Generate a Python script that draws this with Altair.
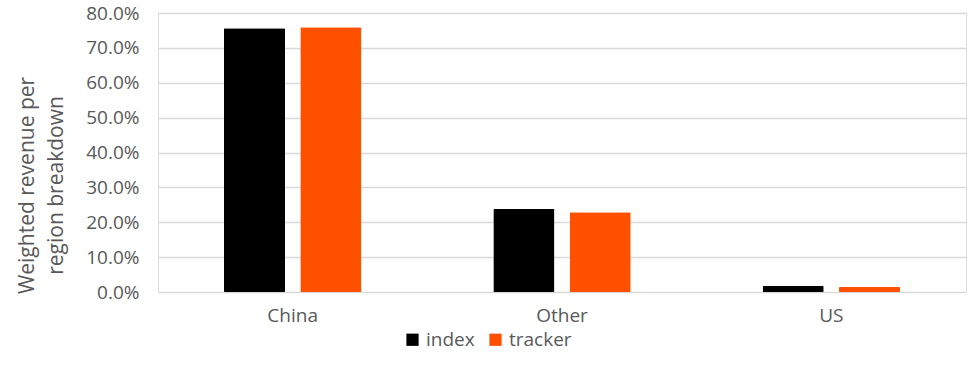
import altair as alt
import pandas as pd

regions = ["China", "Other", "US"]
index_vals = [0.756, 0.238, 0.017]
tracker_vals = [0.759, 0.229, 0.014]
series = ["index", "tracker"]
colors = ["#000000", "#FF5000"]
y_ticks = [0.0, 0.1, 0.2, 0.3, 0.4, 0.5, 0.6, 0.7, 0.8]

rows = []
for r, a, b in zip(regions, index_vals, tracker_vals):
    rows.append({"region": r, "series": "index", "value": a})
    rows.append({"region": r, "series": "tracker", "value": b})
df = pd.DataFrame(rows)

FONT = "Open Sans"
GREY = "#595959"

chart = alt.Chart(df).mark_bar(cornerRadius=1).encode(
    x=alt.X("region:N", sort=regions,
            scale=alt.Scale(paddingInner=0.49, paddingOuter=0.245),
            axis=alt.Axis(title=None, labelAngle=0, ticks=False, domain=False,
                          labelFontSize=19, labelColor=GREY, labelFont=FONT,
                          labelPadding=14, grid=False)),
    xOffset=alt.XOffset("series:N", sort=series,
                        scale=alt.Scale(paddingInner=0.2, paddingOuter=0)),
    y=alt.Y("value:Q",
            scale=alt.Scale(domain=[0, 0.8], nice=False),
            axis=alt.Axis(values=y_ticks, format=".1%", ticks=False, domain=False,
                          labelFontSize=19, labelColor=GREY, labelFont=FONT,
                          labelPadding=19, gridColor="#D9D9D9", gridWidth=1.5,
                          title=["Weighted revenue per", "region breakdown"],
                          titleFontSize=21, titleFontWeight="normal",
                          titleColor=GREY, titleFont=FONT, titlePadding=19,
                          titleLineHeight=29, titleY=172)),
    color=alt.Color("series:N", sort=series,
                    scale=alt.Scale(domain=series, range=colors),
                    legend=alt.Legend(title=None, orient="none", direction="horizontal",
                                      legendX=245, legendY=317,
                                      symbolType="square", symbolSize=150,
                                      symbolStrokeWidth=0,
                                      labelFontSize=19, labelColor=GREY,
                                      labelFont=FONT, columnPadding=11,
                                      labelOffset=4)),
).properties(
    width=808, height=279,
    autosize=alt.AutoSizeParams(type="none"),
    padding={"left": 158, "top": 13, "right": 10, "bottom": 80},
).configure_view(stroke=None).configure(background="#FFFFFF")

chart.save("out.html", embed_options={"renderer": "svg", "actions": False})
